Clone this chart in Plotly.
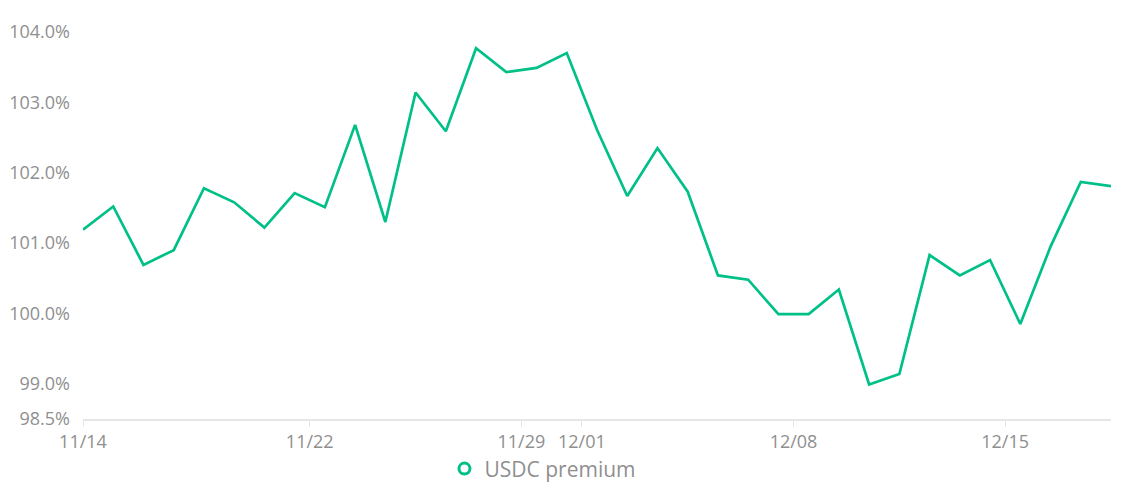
# USDC premium line chart, daily points 11/14 - 12/18

import plotly.graph_objects as go

# daily samples (taken at noon), values in percent
dates = [
    '2024-11-14 12:00', '2024-11-15 12:00', '2024-11-16 12:00', '2024-11-17 12:00',
    '2024-11-18 12:00', '2024-11-19 12:00', '2024-11-20 12:00', '2024-11-21 12:00',
    '2024-11-22 12:00', '2024-11-23 12:00', '2024-11-24 12:00', '2024-11-25 12:00',
    '2024-11-26 12:00', '2024-11-27 12:00', '2024-11-28 12:00', '2024-11-29 12:00',
    '2024-11-30 12:00', '2024-12-01 12:00', '2024-12-02 12:00', '2024-12-03 12:00',
    '2024-12-04 12:00', '2024-12-05 12:00', '2024-12-06 12:00', '2024-12-07 12:00',
    '2024-12-08 12:00', '2024-12-09 12:00', '2024-12-10 12:00', '2024-12-11 12:00',
    '2024-12-12 12:00', '2024-12-13 12:00', '2024-12-14 12:00', '2024-12-15 12:00',
    '2024-12-16 12:00', '2024-12-17 12:00', '2024-12-18 12:00',
]
usdc_premium = [
    101.19, 101.52, 100.69, 100.90, 101.78, 101.58, 101.22, 101.71,
    101.51, 102.68, 101.30, 103.14, 102.59, 103.77, 103.43, 103.49,
    103.70, 102.61, 101.67, 102.35, 101.73, 100.54, 100.48, 99.99,
    99.99, 100.34, 98.99, 99.14, 100.83, 100.54, 100.76, 99.85,
    100.95, 101.87, 101.81,
]

x_tick_vals = ['2024-11-14 12:00', '2024-11-22', '2024-11-29', '2024-12-01', '2024-12-08', '2024-12-15']
x_tick_text = ['11/14', '11/22', '11/29', '12/01', '12/08', '12/15']
y_tick_vals = [98.5, 99, 100, 101, 102, 103, 104]
y_tick_text = ['98.5%', '99.0%', '100.0%', '101.0%', '102.0%', '103.0%', '104.0%']

green = '#00c087'
grey_text = '#8f8f8f'
axis_grey = '#e6e6e6'
font_family = 'Open Sans'

fig = go.Figure()

# the actual line (legend entry is drawn by the dummy trace below)
fig.add_trace(go.Scatter(
    x=dates,
    y=usdc_premium,
    mode='lines',
    line=dict(color=green, width=2.7),
    showlegend=False,
    hoverinfo='skip',
    name='USDC premium',
))

# legend-only trace so the legend shows a hollow circle
fig.add_trace(go.Scatter(
    x=[None],
    y=[None],
    mode='markers',
    marker=dict(symbol='circle-open', size=11, color=green, line=dict(width=3, color=green)),
    name='USDC premium',
))

fig.update_layout(
    width=1123,
    height=488,
    margin=dict(l=83, r=12, t=32, b=69),
    paper_bgcolor='white',
    plot_bgcolor='white',
    font=dict(family=font_family, color=grey_text, size=18),
    xaxis=dict(
        type='date',
        range=[dates[0], dates[-1]],
        tickvals=x_tick_vals,
        ticktext=x_tick_text,
        showgrid=False,
        zeroline=False,
        showline=True,
        linecolor=axis_grey,
        linewidth=1.5,
        ticks='outside',
        ticklen=6,
        tickcolor=axis_grey,
        tickfont=dict(size=18, color=grey_text),
        automargin=False,
    ),
    yaxis=dict(
        range=[98.5, 104],
        tickvals=y_tick_vals,
        ticktext=y_tick_text,
        showgrid=False,
        zeroline=False,
        showline=False,
        ticks='',
        ticklabelstandoff=12,
        tickfont=dict(size=18, color=grey_text),
        automargin=False,
    ),
    legend=dict(
        orientation='h',
        xref='container',
        yref='container',
        x=0.4835,
        y=0.039,
        xanchor='center',
        yanchor='middle',
        font=dict(size=21, color=grey_text),
        itemwidth=30,
    ),
    showlegend=True,
)

fig.write_html("out.html", config={'displayModeBar': False})

# drop the browser's default body margin so the figure sits at (0, 0)
with open("out.html", encoding="utf-8") as f:
    html = f.read()
html = html.replace("<body>", '<body style="margin:0">', 1)
with open("out.html", "w", encoding="utf-8") as f:
    f.write(html)
